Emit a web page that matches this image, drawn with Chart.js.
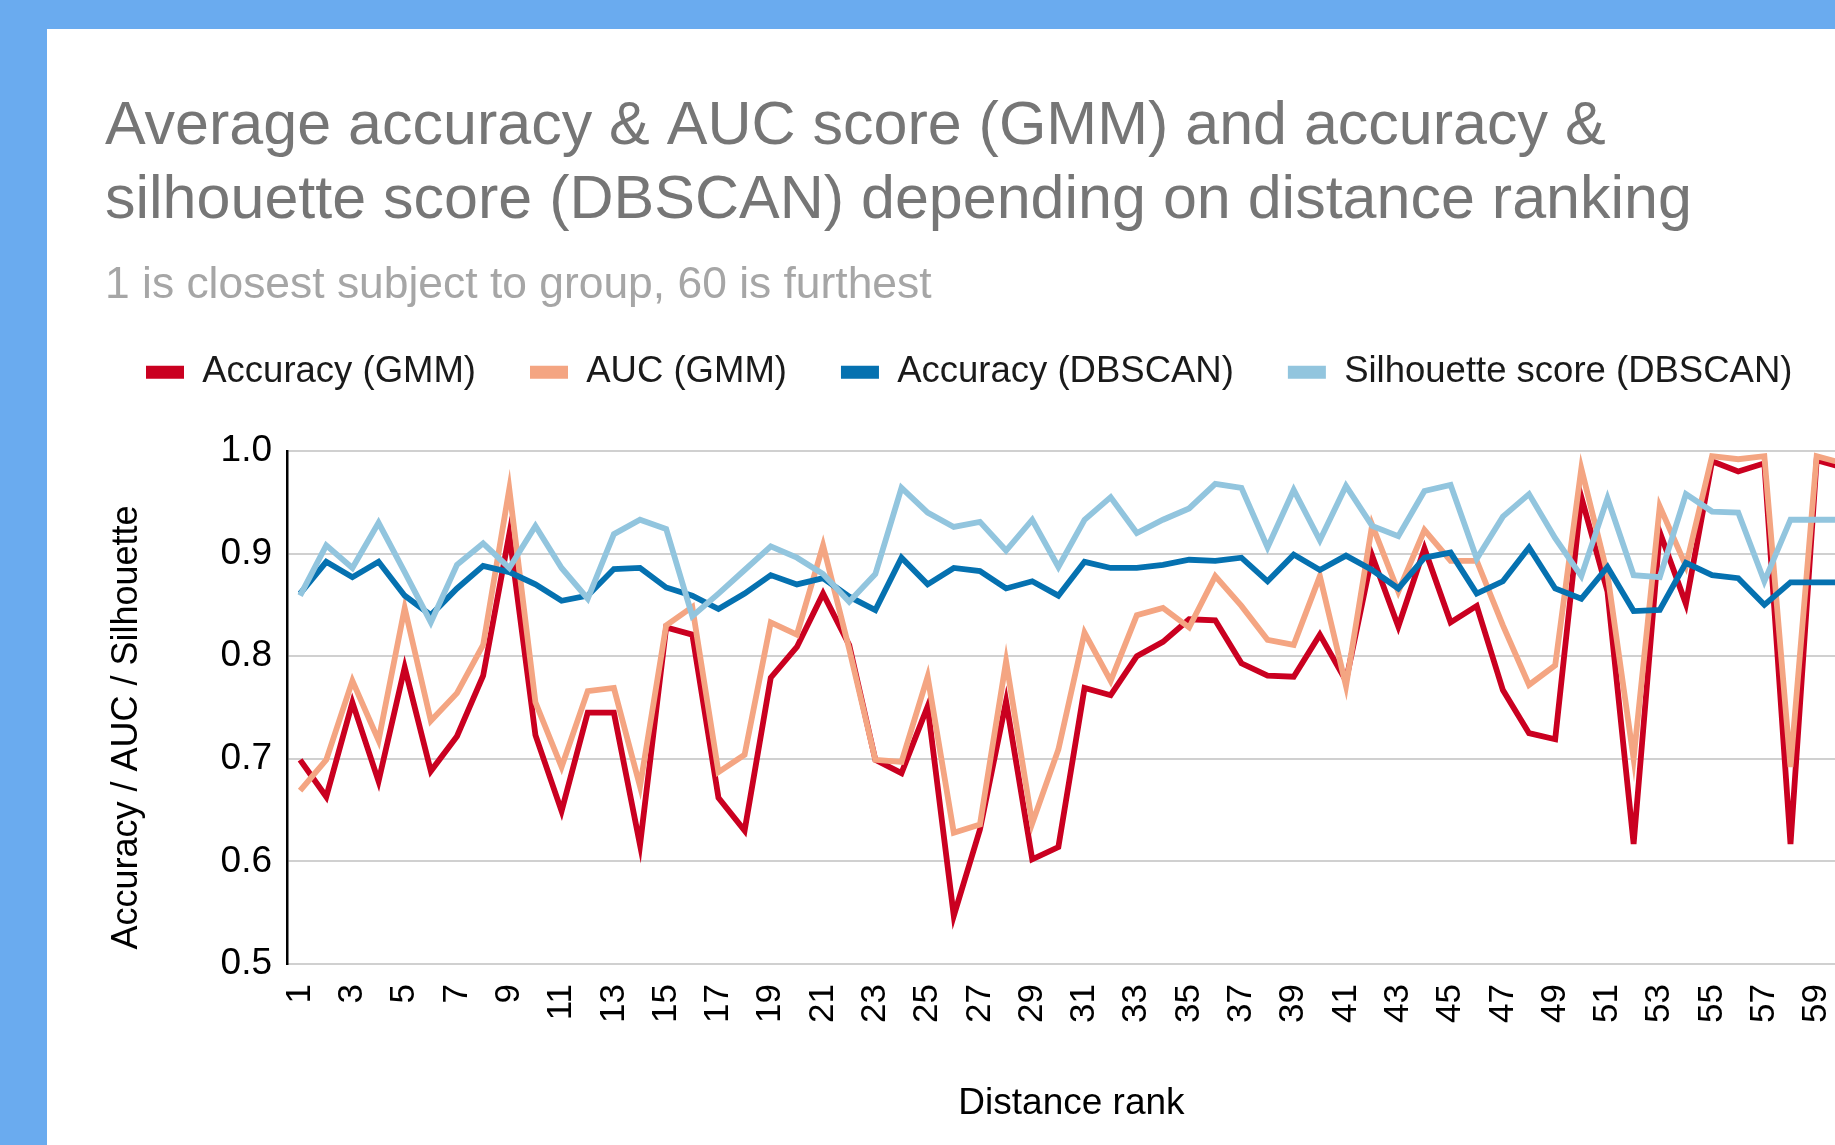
<!DOCTYPE html>
<html>
<head>
<meta charset="utf-8">
<script src="https://cdn.jsdelivr.net/npm/chart.js@4.4.1/dist/chart.umd.min.js"></script>
<style>
  html, body { margin: 0; padding: 0; width: 1835px; height: 1145px; overflow: hidden; background: #6aabef; }
  #card { position: absolute; left: 47px; top: 29px; right: 0; bottom: 0; background: #ffffff; }
  #chart { position: absolute; left: 47px; top: 29px; }
</style>
</head>
<body>
<div id="card"></div>
<canvas id="chart" width="1858" height="1116"></canvas>
<script>
const TITLE_LINES = ['Average accuracy & AUC score (GMM) and accuracy &', 'silhouette score (DBSCAN) depending on distance ranking'];
const SUBTITLE = '1 is closest subject to group, 60 is furthest';
const X_TITLE = 'Distance rank';
const Y_TITLE = 'Accuracy / AUC / Silhouette    ';
const SERIES_NAMES = ['Accuracy (GMM)', 'AUC (GMM)', 'Accuracy (DBSCAN)', 'Silhouette score (DBSCAN)'];

const ranks = [1,2,3,4,5,6,7,8,9,10,11,12,13,14,15,16,17,18,19,20,21,22,23,24,25,26,27,28,29,30,
               31,32,33,34,35,36,37,38,39,40,41,42,43,44,45,46,47,48,49,50,51,52,53,54,55,56,57,58,59,60];

const accuracyGMM = [0.699, 0.663, 0.755, 0.678, 0.789, 0.688, 0.722, 0.781, 0.919, 0.723,
  0.649, 0.745, 0.745, 0.616, 0.828, 0.821, 0.662, 0.630, 0.779, 0.809,
  0.861, 0.811, 0.699, 0.686, 0.751, 0.547, 0.631, 0.756, 0.602, 0.614,
  0.769, 0.762, 0.800, 0.814, 0.836, 0.835, 0.793, 0.781, 0.780, 0.821,
  0.776, 0.898, 0.829, 0.905, 0.833, 0.849, 0.767, 0.725, 0.719, 0.955,
  0.863, 0.617, 0.921, 0.851, 0.990, 0.980, 0.988, 0.617, 0.991, 0.984];

const aucGMM = [0.669, 0.699, 0.776, 0.718, 0.847, 0.737, 0.764, 0.811, 0.963, 0.755,
  0.692, 0.766, 0.769, 0.673, 0.830, 0.848, 0.687, 0.704, 0.833, 0.821,
  0.908, 0.807, 0.699, 0.697, 0.780, 0.628, 0.636, 0.795, 0.637, 0.709,
  0.823, 0.776, 0.840, 0.847, 0.828, 0.878, 0.849, 0.816, 0.811, 0.878,
  0.771, 0.928, 0.863, 0.923, 0.893, 0.893, 0.830, 0.772, 0.791, 0.983,
  0.880, 0.700, 0.946, 0.888, 0.995, 0.992, 0.995, 0.692, 0.995, 0.988];

const accuracyDBSCAN = [0.861, 0.892, 0.877, 0.892, 0.859, 0.840, 0.866, 0.888, 0.882, 0.870,
  0.854, 0.859, 0.885, 0.886, 0.867, 0.859, 0.846, 0.861, 0.879, 0.870,
  0.876, 0.858, 0.845, 0.896, 0.870, 0.886, 0.883, 0.866, 0.873, 0.859,
  0.892, 0.886, 0.886, 0.889, 0.894, 0.893, 0.896, 0.873, 0.899, 0.884,
  0.898, 0.884, 0.866, 0.896, 0.901, 0.861, 0.873, 0.906, 0.866, 0.856,
  0.887, 0.844, 0.845, 0.891, 0.879, 0.876, 0.850, 0.872, 0.872, 0.872];

const silhouetteDBSCAN = [0.859, 0.908, 0.886, 0.930, 0.882, 0.833, 0.889, 0.910, 0.886, 0.927,
  0.886, 0.856, 0.919, 0.933, 0.924, 0.839, 0.861, 0.884, 0.907, 0.896,
  0.880, 0.853, 0.880, 0.964, 0.940, 0.926, 0.931, 0.903, 0.933, 0.887,
  0.933, 0.955, 0.920, 0.933, 0.944, 0.968, 0.964, 0.906, 0.962, 0.913,
  0.966, 0.927, 0.917, 0.961, 0.967, 0.895, 0.936, 0.958, 0.915, 0.878,
  0.954, 0.879, 0.877, 0.958, 0.941, 0.940, 0.873, 0.933, 0.933, 0.933];

const yTickValues = [0.5, 0.6, 0.7, 0.8, 0.9, 1.0];

const COLORS = ['#ca0020', '#f4a582', '#0571b0', '#92c5de'];
const FONT = "'Liberation Sans', Arial, Helvetica, sans-serif";
const LEGEND_GAP = 50.6;
const LEGEND_SHIFT = -13;

const seriesValues = [accuracyGMM, aucGMM, accuracyDBSCAN, silhouetteDBSCAN];

const legendTweak = {
  id: 'legendTweak',
  beforeInit(chart) {
    const lg = chart.legend;
    if (!lg) return;
    const origFit = lg.fit;
    lg.fit = function () {
      origFit.call(this);
      this.height += LEGEND_GAP;
    };
  },
  afterLayout(chart) {
    const lg = chart.legend;
    if (!lg) return;
    lg.left += LEGEND_SHIFT;
    lg.right += LEGEND_SHIFT;
  }
};

const datasets = seriesValues.map((vals, i) => ({
  label: SERIES_NAMES[i],
  data: vals,
  borderColor: COLORS[i],
  backgroundColor: COLORS[i],
  borderWidth: 5.8,
  pointRadius: 0,
  pointHoverRadius: 0,
  tension: 0,
  fill: false,
  order: 4 - i,
  borderJoinStyle: 'miter',
  borderCapStyle: 'butt'
}));

new Chart(document.getElementById('chart'), {
  type: 'line',
  data: { labels: ranks.map(String), datasets },
  plugins: [legendTweak],
  options: {
    responsive: false,
    animation: false,
    events: [],
    layout: { padding: { left: 58, right: 24, top: 0, bottom: 0 } },
    plugins: {
      title: {
        display: true,
        text: TITLE_LINES,
        align: 'start',
        color: '#767676',
        font: { family: FONT, size: 61, weight: 'normal', lineHeight: 1.213 },
        padding: { top: 61, bottom: 33.5 }
      },
      subtitle: {
        display: true,
        text: SUBTITLE,
        align: 'start',
        color: '#a6a6a6',
        font: { family: FONT, size: 44.4, weight: 'normal', lineHeight: 0.64 },
        padding: { top: 0, bottom: 0 }
      },
      legend: {
        display: true,
        position: 'top',
        align: 'start',
        labels: {
          boxWidth: 38,
          boxHeight: 13,
          padding: 54,
          color: '#1a1a1a',
          font: { family: FONT, size: 36.5 },
          sort: (a, b) => a.datasetIndex - b.datasetIndex,
          generateLabels(chart) {
            const items = Chart.defaults.plugins.legend.labels.generateLabels(chart);
            items.forEach(it => { it.lineWidth = 0; it.strokeStyle = 'rgba(0,0,0,0)'; });
            return items;
          }
        }
      },
      tooltip: { enabled: false }
    },
    scales: {
      x: {
        type: 'category',
        offset: true,
        grid: { display: false, drawTicks: false },
        border: { display: true, color: '#d0d0d0', width: 2 },
        ticks: {
          autoSkip: false,
          minRotation: 90,
          maxRotation: 90,
          padding: 20,
          color: '#000000',
          font: { family: FONT, size: 35 },
          callback: function (value, index) { return index % 2 === 0 ? ranks[index] : ''; }
        },
        title: {
          display: true,
          text: X_TITLE,
          color: '#000000',
          font: { family: FONT, size: 37 },
          padding: { top: 38.4, bottom: 19.3 }
        }
      },
      y: {
        min: 0.5,
        max: 1.0,
        grid: { color: '#d0d0d0', lineWidth: 2, drawTicks: false },
        border: { display: true, color: '#000000', width: 2.5 },
        afterBuildTicks: (scale) => { scale.ticks = yTickValues.map(v => ({ value: v })); },
        ticks: {
          padding: 15,
          color: '#000000',
          font: { family: FONT, size: 37 },
          callback: (v) => Number(v).toFixed(1)
        },
        title: {
          display: true,
          text: Y_TITLE,
          color: '#000000',
          font: { family: FONT, size: 36 },
          padding: { top: 0, bottom: 57.4 }
        }
      }
    }
  }
});
</script>
</body>
</html>
